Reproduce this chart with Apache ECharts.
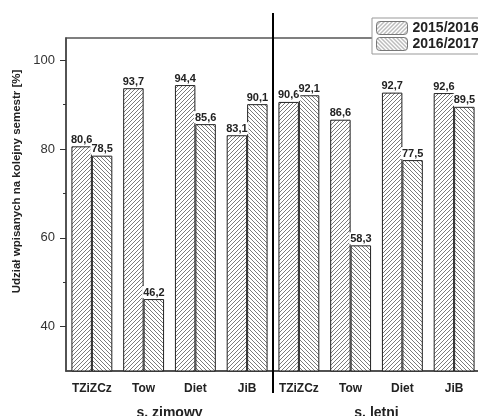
<!DOCTYPE html>
<html>
<head>
<meta charset="utf-8">
<script src="https://cdn.jsdelivr.net/npm/echarts@6/dist/echarts.min.js"></script>
<style>
  html, body { margin: 0; padding: 0; background: #fff; }
  #chart { width: 478px; height: 416px; }
</style>
</head>
<body>
<div id="chart"></div>
<script>
// ---- data ----
const categories = ['TZiZCz', 'Tow', 'Diet', 'JiB', 'TZiZCz', 'Tow', 'Diet', 'JiB'];
const groups = ['s. zimowy', 's. letni'];
const seriesNames = ['2015/2016', '2016/2017'];
const values2015 = [80.6, 93.7, 94.4, 83.1, 90.6, 86.6, 92.7, 92.6];
const values2016 = [78.5, 46.2, 85.6, 90.1, 92.1, 58.3, 77.5, 89.5];
const yTicks = [40, 60, 80, 100];
const yMinorTicks = [50, 70, 90];
const yName = 'Udział wpisanych na kolejny semestr [%]';

function hatch(dir) {
  const s = 4;
  const c = document.createElement('canvas');
  c.width = s; c.height = s;
  const g = c.getContext('2d');
  g.fillStyle = '#fff';
  g.fillRect(0, 0, s, s);
  g.strokeStyle = '#7a7a7a';
  g.lineWidth = 1;
  g.beginPath();
  if (dir === '/') {
    g.moveTo(-1, s + 1); g.lineTo(s + 1, -1);
    g.moveTo(-1, 1); g.lineTo(1, -1);
    g.moveTo(s - 1, s + 1); g.lineTo(s + 1, s - 1);
  } else {
    g.moveTo(-1, -1); g.lineTo(s + 1, s + 1);
    g.moveTo(-1, s - 1); g.lineTo(1, s + 1);
    g.moveTo(s - 1, -1); g.lineTo(s + 1, 1);
  }
  g.stroke();
  return { image: c, repeat: 'repeat' };
}

const FONT = '"Liberation Sans", Arial, sans-serif';
const fmt = p => String(p.value).replace('.', ',');

const labelCfg = {
  show: true, position: 'top', distance: 1,
  formatter: fmt, fontFamily: FONT, fontWeight: 'bold', fontSize: 11, color: '#222',
  backgroundColor: '#fff', padding: [1, 1, 0, 1]
};

const chart = echarts.init(document.getElementById('chart'), null, { renderer: 'canvas' });
chart.setOption({
  animation: false,
  grid: {
    left: 66, right: -2, top: 38, bottom: 45,
    containLabel: false, outerBoundsMode: 'none',
    show: true, borderColor: '#555', borderWidth: 1.5, backgroundColor: 'transparent'
  },
  legend: {
    orient: 'vertical', left: 372, top: 18,
    padding: [3, 12, 3, 4], itemGap: 2, itemWidth: 31, itemHeight: 13,
    backgroundColor: '#fff', borderColor: '#999', borderWidth: 1,
    textStyle: { fontFamily: FONT, fontWeight: 'bold', fontSize: 14, color: '#222' },
    itemStyle: { borderColor: '#777', borderWidth: 1 },
    data: seriesNames
  },
  xAxis: [
    {
      type: 'category', data: categories, position: 'bottom',
      axisLine: { lineStyle: { color: '#444', width: 1.5 } },
      axisTick: { alignWithLabel: true, length: 6, lineStyle: { color: '#333' } },
      axisLabel: { fontFamily: FONT, fontWeight: 'bold', fontSize: 12, color: '#222', margin: 12, interval: 0 }
    },
    {
      type: 'category', data: categories, position: 'bottom',
      axisLine: { show: false },
      axisTick: { length: 3, lineStyle: { color: '#333' } },
      axisLabel: { show: false }
    },
    {
      type: 'category', data: groups, position: 'bottom', offset: 27,
      axisLine: { show: false }, axisTick: { show: false },
      axisLabel: { fontFamily: FONT, fontWeight: 'bold', fontSize: 14, color: '#222', margin: 8 }
    }
  ],
  yAxis: [
    {
      type: 'value', min: 30, max: 105, position: 'left',
      name: yName, nameLocation: 'middle', nameGap: 37,
      nameTextStyle: { fontFamily: FONT, fontWeight: 'bold', fontSize: 11.5, color: '#222', padding: [0, 0, 0, 46] },
      axisLine: { show: true, lineStyle: { color: '#444', width: 1.5 } },
      axisTick: { show: true, length: 6, customValues: yTicks, lineStyle: { color: '#333' } },
      axisLabel: { customValues: yTicks, fontFamily: FONT, fontSize: 13, color: '#333', margin: 11 },
      splitLine: { show: false }
    },
    {
      type: 'value', min: 30, max: 105, position: 'left',
      axisLine: { show: false },
      axisTick: { show: true, length: 3, customValues: yMinorTicks, lineStyle: { color: '#333' } },
      axisLabel: { show: false },
      splitLine: { show: false }
    }
  ],
  series: [
    {
      name: seriesNames[0], type: 'bar', data: values2015, xAxisIndex: 0, yAxisIndex: 0,
      barGap: 0, barCategoryGap: '21%',
      itemStyle: { color: hatch('/'), borderColor: '#222', borderWidth: 1 },
      label: labelCfg
    },
    {
      name: seriesNames[1], type: 'bar', data: values2016, xAxisIndex: 0, yAxisIndex: 0,
      barGap: 0, barCategoryGap: '21%',
      itemStyle: { color: hatch('\\'), borderColor: '#222', borderWidth: 1 },
      label: labelCfg
    }
  ]
});

// divider between the two semesters, placed via the category axis scale
const xa = chart.convertToPixel({ xAxisIndex: 0 }, 3);
const xb = chart.convertToPixel({ xAxisIndex: 0 }, 4);
const xd = Math.round((xa + xb) / 2);
chart.setOption({
  graphic: [{
    type: 'line', z: 100,
    shape: { x1: xd, y1: 13, x2: xd, y2: 393 },
    style: { stroke: '#000', lineWidth: 2 }
  }]
});
</script>
</body>
</html>
